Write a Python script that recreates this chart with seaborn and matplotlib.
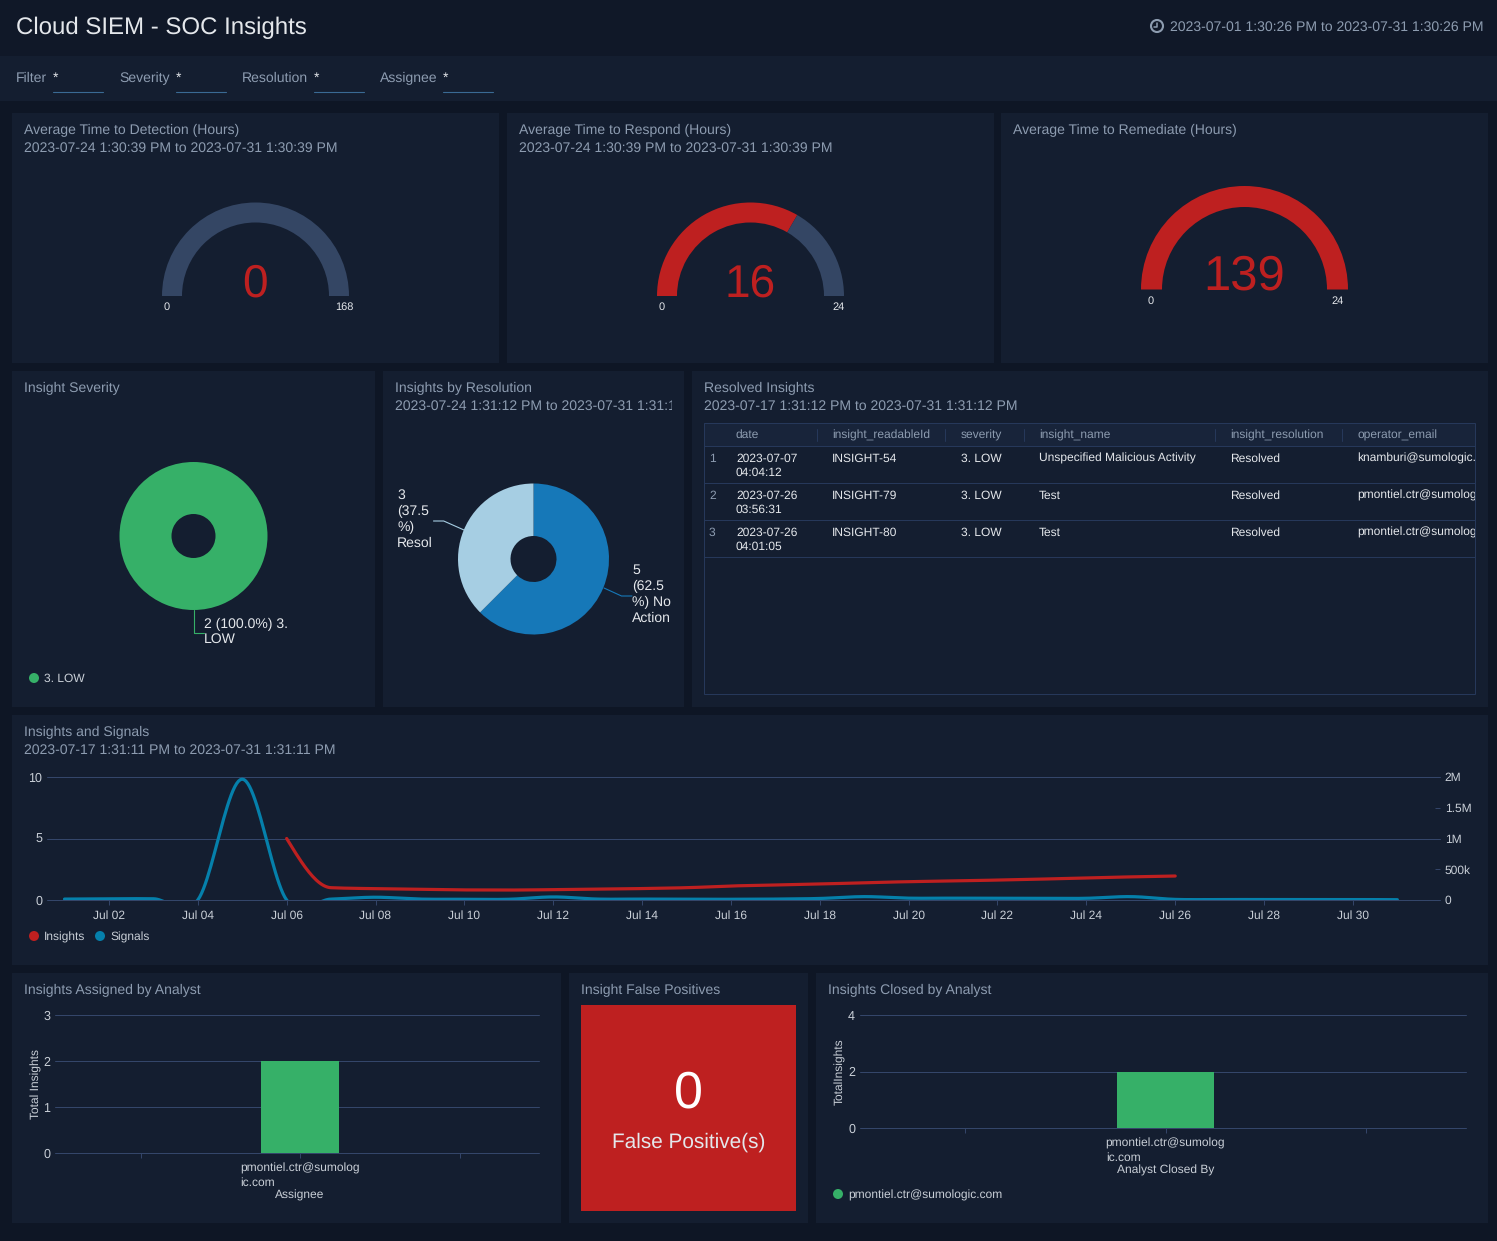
import numpy as np
import pandas as pd
import matplotlib
matplotlib.use("Agg")
import matplotlib.pyplot as plt
import matplotlib.dates as mdates
from matplotlib.patches import Rectangle, Circle
import seaborn as sns

W, H = 1497, 1241

# colours
PAGE = "#0E1625"
HEADER = "#101828"
PANEL = "#141E30"
TABLE_HEAD = "#18243A"
GRID = "#34466A"
TABLE_LINE = "#26385A"
TRACK = "#344664"
MUTED = "#8D9CB0"
LIGHT = "#C9CFD7"
WHITE = "#E4E7EB"
RED = "#BE2020"
GREEN = "#36B068"
BLUE = "#1678B8"
PALE_BLUE = "#A6CEE3"
SIGNAL = "#0580AB"

# data
gauge_titles = ["Average Time to Detection (Hours)", "Average Time to Respond (Hours)", "Average Time to Remediate (Hours)"]
gauge_values = [0, 16, 139]
gauge_max = [168, 24, 24]

severity_labels = ["3. LOW"]
severity_counts = [2]
resolution_labels = ["No Action", "Resolved"]
resolution_counts = [5, 3]

table_columns = ["date", "insight_readableId", "severity", "insight_name", "insight_resolution", "operator_email"]
table_dates = ["2023-07-07\n04:04:12", "2023-07-26\n03:56:31", "2023-07-26\n04:01:05"]
table_ids = ["INSIGHT-54", "INSIGHT-79", "INSIGHT-80"]
table_severity = ["3. LOW", "3. LOW", "3. LOW"]
table_names = ["Unspecified Malicious Activity", "Test", "Test"]
table_resolution = ["Resolved", "Resolved", "Resolved"]
# cut where the panel cuts them
table_emails = ["knamburi@sumologic.", "pmontiel.ctr@sumolog", "pmontiel.ctr@sumolog"]

signal_days = pd.date_range("2023-07-01", "2023-07-31", freq="D")
signal_values = [15e3, 20e3, 20e3, 0, 1.965e6, 0, 15e3, 45e3, 15e3, 12e3, 12e3, 50e3, 15e3, 15e3, 12e3, 12e3,
                 15e3, 25e3, 55e3, 30e3, 30e3, 28e3, 25e3, 28e3, 55e3, 10e3, 8e3, 8e3, 8e3, 8e3, 5e3]
insight_days = pd.date_range("2023-07-06", "2023-07-26", freq="D")
insight_values = [5.0, 1.0, 0.92, 0.86, 0.82, 0.81, 0.84, 0.88, 0.93, 1.0, 1.14, 1.22, 1.3, 1.4, 1.49, 1.55, 1.62, 1.7, 1.8, 1.88, 1.95]

analyst_email = "pmontiel.ctr@sumologic.com"
analyst_tick = "pmontiel.ctr@sumolog\nic.com"
assigned_counts = [0, 2, 0]
closed_counts = [0, 2, 0]
false_positives = 0


def fs(px):
    return px * 0.72


def px_axes(x0, y0, x1, y1):
    a = fig.add_axes([x0 / W, 1 - y1 / H, (x1 - x0) / W, (y1 - y0) / H])
    a.patch.set_alpha(0)
    return a


def label(x, y, s, px=14, color=MUTED, ha="left", va="center", **kw):
    return bg.text(x, y + 1, s, fontsize=fs(px), color=color, ha=ha, va=va, **kw)


def panel(x0, y0, x1, y1, title=None, sub=None):
    bg.add_patch(Rectangle((x0, y0), x1 - x0, y1 - y0, color=PANEL, lw=0))
    if title:
        label(x0 + 12, y0 + 16, title)
    if sub:
        t = label(x0 + 12, y0 + 34, sub)
        t.set_clip_path(Rectangle((x0, y0), x1 - x0 - 12, 60, transform=bg.transData))
        t.set_clip_on(True)


def dot(x, y, color):
    bg.add_patch(Circle((x, y), 5, color=color, lw=0))


def unclip_grid(a):
    # the line at zero sits on the axes edge
    for gl in a.get_ygridlines():
        gl.set_clip_on(False)


def smooth(days, values, monotone=False, n=24):
    # cubic between the daily points, the axes clip what dips under zero
    y = np.asarray(values, dtype=float)
    x = np.arange(len(y), dtype=float)
    d = np.diff(y)
    m = np.zeros(len(y))
    for i in range(1, len(y) - 1):
        if not monotone:
            m[i] = (y[i + 1] - y[i - 1]) / 2
        elif d[i - 1] * d[i] > 0:
            m[i] = 2 * d[i - 1] * d[i] / (d[i - 1] + d[i])
    m[0], m[-1] = d[0], d[-1]
    if monotone:
        m[0] = (3 * d[0] - m[1]) / 2
    xs = np.linspace(0, len(y) - 1, (len(y) - 1) * n + 1)
    i = np.minimum(xs.astype(int), len(y) - 2)
    t = xs - i
    ys = ((2 * t**3 - 3 * t**2 + 1) * y[i] + (t**3 - 2 * t**2 + t) * m[i]
          + (-2 * t**3 + 3 * t**2) * y[i + 1] + (t**3 - t**2) * m[i + 1])
    return pd.DataFrame({"date": days[0] + pd.to_timedelta(xs, unit="D"), "value": ys})


sns.set_theme(style="dark")
plt.rcParams["font.family"] = ["Liberation Sans", "DejaVu Sans"]
plt.rcParams["axes.facecolor"] = "none"
plt.rcParams["text.hinting"] = "no_hinting"

fig = plt.figure(figsize=(W / 100, H / 100), dpi=100, facecolor=PAGE)
bg = fig.add_axes([0, 0, 1, 1])
bg.set_xlim(0, W)
bg.set_ylim(H, 0)
bg.axis("off")

# header + filters
bg.add_patch(Rectangle((0, 0), W, 56, color=HEADER, lw=0))
bg.add_patch(Rectangle((0, 56), W, 45, color=PANEL, lw=0))
label(16, 27, "Cloud SIEM - SOC Insights", px=24, color=WHITE)
label(1484, 26, "2023-07-01 1:30:26 PM to 2023-07-31 1:30:26 PM", ha="right")
bg.add_patch(Circle((1157, 26), 6, fc="none", ec=MUTED, lw=1.5))
bg.plot([1157, 1157, 1153.5], [22.5, 26.5, 26.5], color=MUTED, lw=1.1)
for name, x, star in [("Filter", 16, 53), ("Severity", 119, 176), ("Resolution", 242, 314), ("Assignee", 380, 443)]:
    label(x, 77.5, name)
    label(star, 77.5, "*", color=WHITE)
    bg.plot([star, star + 49.5], [92, 92], color="#3A6A94", lw=0.8)

# gauges
panel(12, 113, 499, 363, gauge_titles[0], "2023-07-24 1:30:39 PM to 2023-07-31 1:30:39 PM")
panel(507, 113, 994, 363, gauge_titles[1], "2023-07-24 1:30:39 PM to 2023-07-31 1:30:39 PM")
panel(1001, 113, 1488, 363, gauge_titles[2])
# centre x, base y, outer r, inner r, value size, value y, min label x, max label x, label y
gauge_geom = [(255.5, 296, 93.5, 73.5, 46, 284, 167, 344, 306),
              (750.5, 296, 93.5, 73.5, 46, 284, 662, 839, 306),
              (1244.5, 289.5, 103.5, 82.5, 49, 276, 1151, 1337.5, 300)]
for i, (cx, cy, r, r_in, vpx, vy, lx, rx, ly) in enumerate(gauge_geom):
    a = px_axes(cx - r, cy - r, cx + r, cy + r)
    top = gauge_max[i]
    fill = min(gauge_values[i], top)
    a.pie([fill, top - fill, top], colors=[RED, TRACK, "none"], startangle=180, counterclock=False,
          radius=1, wedgeprops=dict(width=(r - r_in) / r, lw=0))
    a.set_xlim(-1, 1)
    a.set_ylim(-1, 1)
    label(cx - 0.5, vy, str(gauge_values[i]), px=vpx, color=RED, ha="center")
    label(lx, ly, "0", px=11, color=WHITE, ha="center")
    label(rx, ly, str(top), px=11, color=WHITE, ha="center")

# severity pie
panel(12, 371, 375, 707, "Insight Severity")
a = px_axes(193.5 - 74, 536 - 74, 193.5 + 74, 536 + 74)
a.pie(severity_counts, colors=[GREEN], radius=1, wedgeprops=dict(width=1 - 22 / 74, lw=0))
a.set_xlim(-1, 1)
a.set_ylim(-1, 1)
bg.plot([193.5, 193.5, 204], [610, 632.5, 632.5], color=GREEN, lw=0.8)
label(204, 631, "2 (100.0%) 3.\nLOW", color=WHITE, linespacing=1.22, multialignment="left")
dot(34, 678, GREEN)
label(44, 677.5, severity_labels[0], px=12, color=LIGHT)

# resolution pie
panel(383, 371, 684, 707, "Insights by Resolution", "2023-07-24 1:31:12 PM to 2023-07-31 1:31:1")
a = px_axes(533.5 - 75.5, 559 - 75.5, 533.5 + 75.5, 559 + 75.5)
a.pie(resolution_counts, colors=[BLUE, PALE_BLUE], startangle=90, counterclock=False, radius=1,
      wedgeprops=dict(width=1 - 23 / 75.5, lw=0))
a.set_xlim(-1, 1)
a.set_ylim(-1, 1)
bg.plot([433.5, 443.7, 464], [521, 521, 530], color=PALE_BLUE, lw=0.8)
bg.plot([604, 621.5, 632], [588, 596, 596], color=BLUE, lw=0.8)
for y, s in zip([494, 510, 526, 542], ["3", "(37.5", "%)", "Resol"]):
    label(397, y, s, color=WHITE)
for y, s in zip([569, 585, 601, 617], ["5", "(62.5", "%) No", "Action"]):
    label(632, y, s, color=WHITE)

# table
panel(692, 371, 1488, 707, "Resolved Insights", "2023-07-17 1:31:12 PM to 2023-07-31 1:31:12 PM")
bg.add_patch(Rectangle((704, 423), 771, 23, fc=TABLE_HEAD, lw=0))
bg.add_patch(Rectangle((704, 423), 771, 271, fc="none", ec=TABLE_LINE, lw=0.72))
clip = Rectangle((704, 423), 771, 271, transform=bg.transData)
col_x = [736, 832, 961, 1039, 1230, 1357]
for x, s in zip(col_x, table_columns):
    label(x, 434, s, px=12)
for x in [816.5, 945, 1023.5, 1214.5, 1341.5]:
    bg.plot([x, x], [429, 441], color=TABLE_LINE, lw=0.72)
for y in [446, 483, 520, 557]:
    bg.plot([704, 1475], [y, y], color=TABLE_LINE, lw=0.72)
for r in range(3):
    y = 462 + 37 * r
    bg.text(709, y, str(r + 1), fontsize=fs(12), color=MUTED, va="baseline")
    for x, col in zip(col_x, [table_dates, table_ids, table_severity, table_names, table_resolution, table_emails]):
        for j, line in enumerate(col[r].split("\n")):
            t = bg.text(x, y + 13.7 * j, line, fontsize=fs(12), color=WHITE, va="baseline")
            t.set_clip_path(clip)
            t.set_clip_on(True)

# line chart
panel(12, 715, 1488, 965, "Insights and Signals", "2023-07-17 1:31:11 PM to 2023-07-31 1:31:11 PM")
ax = px_axes(47, 777, 1440, 900)
ax2 = ax.twinx()
ax2.patch.set_alpha(0)
sns.lineplot(data=smooth(insight_days, insight_values, monotone=True), x="date", y="value", ax=ax, color=RED, lw=2.3, errorbar=None)
sns.lineplot(data=smooth(signal_days, signal_values), x="date", y="value", ax=ax2, color=SIGNAL, lw=2.3, errorbar=None)
ax.set_xlim(pd.Timestamp("2023-07-01") - pd.Timedelta(days=0.394), pd.Timestamp("2023-07-01") + pd.Timedelta(days=30.96))
ax.set_ylim(0, 10)
ax2.set_ylim(0, 2e6)
ax.set_xlabel("")
ax.set_ylabel("")
ax2.set_ylabel("")
ax.set_yticks([0, 5, 10])
ax.xaxis.set_major_locator(mdates.DayLocator(bymonthday=list(range(2, 31, 2))))
ax.xaxis.set_major_formatter(mdates.DateFormatter("%b %d"))
ax.grid(axis="y", color=GRID, lw=0.72)
ax.grid(axis="x", visible=False)
unclip_grid(ax)
ax.tick_params(axis="x", length=3.5, width=0.7, color=GRID, labelcolor=LIGHT, labelsize=fs(12), pad=3.8, bottom=True)
ax.tick_params(axis="y", length=0, labelcolor=LIGHT, labelsize=fs(12.5), pad=3.5)
ax2.set_yticks([0, 5e5, 1e6, 1.5e6, 2e6], ["0", "500k", "1M", "1.5M", "2M"])
ax2.tick_params(axis="y", direction="in", length=3.5, width=0.7, color=GRID, labelcolor=LIGHT, labelsize=fs(12), pad=3.5, right=True)
ax2.grid(False)
for i in [0, 2, 4]:
    ax2.yaxis.get_major_ticks()[i].tick2line.set_visible(False)
for a in (ax, ax2):
    for s in a.spines.values():
        s.set_visible(False)
dot(34, 936, RED)
label(44, 936, "Insights", px=12, color=LIGHT)
dot(100, 936, SIGNAL)
label(110, 936, "Signals", px=12, color=LIGHT)


# bottom bars
def bar_chart(box, counts, ymax, yticks, unit_px, bar_px, center_x, ylabel, xlabel, xlabel_y, ylabel_x, ylabel_y):
    x0, y0, x1, y1 = box
    a = px_axes(x0, y0, x1, y1)
    cats = [" ", analyst_email, "  "]
    sns.barplot(x=cats, y=counts, ax=a, color=GREEN, saturation=1, width=bar_px / unit_px, lw=0)
    a.set_xlim(1 + (x0 - center_x) / unit_px, 1 + (x1 - center_x) / unit_px)
    a.set_ylim(0, ymax)
    a.set_yticks(yticks)
    a.set_xticks([0, 1, 2], ["", analyst_tick, ""], multialignment="left", linespacing=1.3)
    a.set_axisbelow(True)
    a.grid(axis="y", color=GRID, lw=0.72)
    a.grid(axis="x", visible=False)
    unclip_grid(a)
    a.tick_params(axis="x", length=3.5, width=0.7, color=GRID, labelcolor=LIGHT, labelsize=fs(12), pad=3.8, bottom=True)
    a.tick_params(axis="y", length=0, labelcolor=LIGHT, labelsize=fs(12.5), pad=3.5)
    for s in a.spines.values():
        s.set_visible(False)
    label(center_x, xlabel_y, xlabel, px=12, color=LIGHT, ha="center")
    label(ylabel_x, ylabel_y, ylabel, px=12, color=LIGHT, ha="center", rotation=90)


panel(12, 973, 561, 1223, "Insights Assigned by Analyst")
bar_chart((55, 1015, 539, 1153), assigned_counts, 3, [0, 1, 2, 3], 159.5, 78, 300, "Total Insights", "Assignee", 1194, 36, 1083)

panel(569, 973, 808, 1223, "Insight False Positives")
bg.add_patch(Rectangle((581, 1005), 215, 206, color=RED, lw=0))
label(688.5, 1093, str(false_positives), px=52, color="white", ha="center")
label(688.5, 1141, "False Positive(s)", px=20.8, color=WHITE, ha="center")

panel(816, 973, 1488, 1223, "Insights Closed by Analyst")
bar_chart((860, 1015, 1466, 1128), closed_counts, 4, [0, 2, 4], 200.5, 97, 1165.5, "TotalInsights", "Analyst Closed By", 1169, 840, 1070.5)
dot(838, 1194, GREEN)
label(848, 1194, analyst_email, px=12, color=LIGHT)

fig.savefig("out.png", dpi=100, facecolor=PAGE)
